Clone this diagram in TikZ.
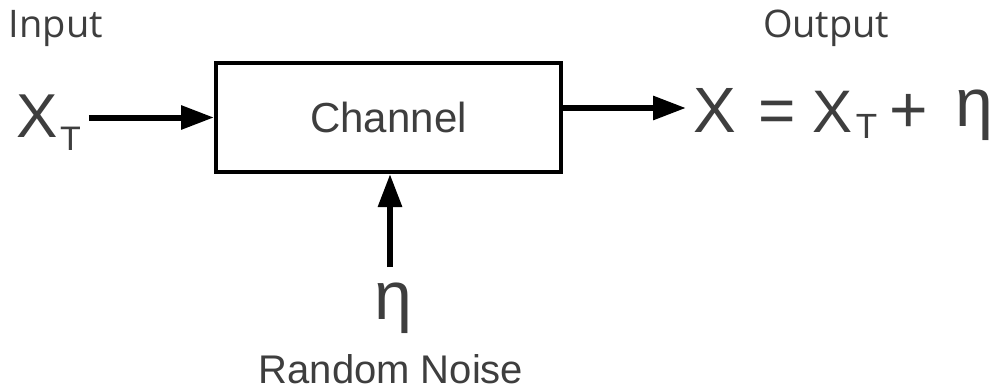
\documentclass[tikz,border=0pt]{standalone}
\usepackage{fontspec}
\setmainfont{Liberation Sans}
\newfontfamily\osans{Open Sans}
\usetikzlibrary{arrows.meta}
\definecolor{txt}{RGB}{62,62,62}
\newcommand{\fs}[1]{\fontsize{#1}{#1}\selectfont}
\begin{document}
\begin{tikzpicture}[x=1pt,y=-1pt,
  txtnode/.style={inner sep=0pt, outer sep=0pt, text=txt},
  arr/.style={line width=6pt, draw=black, -{Triangle[length=33pt,width=23pt]}},
  boxnode/.style={draw=black, line width=4pt, inner sep=0pt, text=txt}]
\useasboundingbox (0,0) rectangle (995,391);
\fill[white] (0,0) rectangle (995,391);
% labels
\node[txtnode, anchor=base west, font=\osans\fs{38}] (in) at (9,37) {Input};
\node[txtnode, anchor=base west, font=\osans\fs{38}] (out) at (763,37) {Output};
% channel box
\node[boxnode, minimum width=345pt, minimum height=109pt, font=\fs{42}] (ch) at (388.5,117.5) {Channel};
% input symbol
\node[txtnode, anchor=base west, font=\fs{62}] (xt) at (16.7,137) {X\hspace{2pt}\raisebox{-13pt}{\fs{34}T}};
% output expression
\node[txtnode, anchor=base west, font=\fs{64}] (expr) at (693,132)
  {X\hspace{22.4pt}=\hspace{17.5pt}{\fs{60}X}\hspace{2.9pt}\raisebox{-6pt}{\fs{35}T}\hspace{12.4pt}{\fs{66}+}\hspace{27pt}\raisebox{6pt}{\fs{68}η}};
% noise
\node[txtnode, anchor=base, font=\fs{68}] (eta) at (393,319) {η};
\node[txtnode, anchor=base, font=\fs{40}] (rn) at (391,383) {Random Noise};
% connectors
\coordinate (otip) at (686,108);
\coordinate (nstart) at (390,267);
\draw[arr, shorten <=8pt] (xt.east |- ch.west) -- (ch.west);
\draw[arr] (ch.east |- otip) -- (otip);
\draw[arr] (nstart) -- (nstart |- ch.south);
\end{tikzpicture}
\end{document}
